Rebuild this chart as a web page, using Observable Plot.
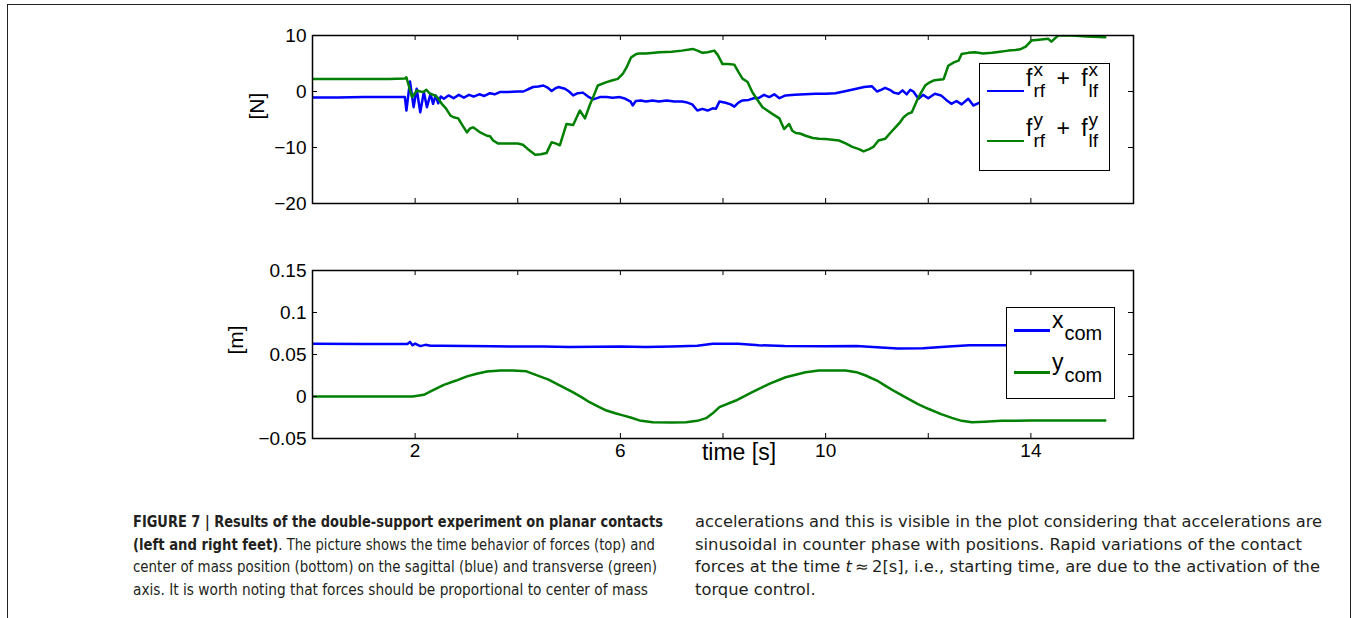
<!DOCTYPE html>
<html><head><meta charset="utf-8">
<script src="https://cdn.jsdelivr.net/npm/d3@7"></script>
<script src="https://cdn.jsdelivr.net/npm/@observablehq/plot@0.6"></script>
<style>
body{margin:0;background:#fff;}
#page{position:relative;width:1356px;height:618px;overflow:hidden;font-family:"Liberation Sans",Arial,Helvetica,sans-serif;background:#fff;}
#page svg, #page svg text{font-family:"Liberation Sans",Arial,Helvetica,sans-serif;}
#border{position:absolute;left:7px;top:4px;width:1342px;height:700px;border:1.5px solid #222;z-index:5;pointer-events:none;}
.plotwrap{position:absolute;left:0;}
.legend{position:absolute;background:#fff;border:1.5px solid #000;z-index:3;box-sizing:border-box;}
.legend .sw{position:absolute;height:2.5px;}
.legend .lab{position:absolute;white-space:nowrap;font-size:23px;line-height:23px;color:#000;}
.ss{position:relative;display:inline-block;font-size:19px;line-height:19px;margin-left:1px;}
.ss .sb{position:relative;top:11px;}
.ss .sp{position:absolute;left:0;top:-10px;}
.pl{margin:0 5px;}
.sub{position:relative;top:12px;font-size:20px;margin-left:1px;}
.cap{position:absolute;font-family:"Liberation Sans Narrow","DejaVu Sans Condensed","Liberation Sans",sans-serif;font-size:15.5px;color:#231f20;}
.cap div{white-space:nowrap;height:22.7px;line-height:22.7px;}
.cap span.ln{display:inline-block;transform-origin:0 50%;}
</style>
</head><body>
<div id="page">
  <div id="border"></div>
  <div id="p1" class="plotwrap" style="top:0px"></div>
  <div id="p2" class="plotwrap" style="top:240px"></div>
  <div id="leg1" class="legend" style="left:979px;top:63px;width:131px;height:108px;"></div>
  <div id="leg2" class="legend" style="left:1006px;top:307px;width:109px;height:92px;"></div>
  <div id="cap1" class="cap" style="left:133px;top:511px;"></div>
  <div id="cap2" class="cap" style="left:695px;top:511px;"></div>
</div>
<script>
// ---------- data ----------
const fxT = [0,0.5,1,1.5,1.8,1.83,1.9,1.97,2.03,2.1,2.17,2.23,2.3,2.35,2.4,2.45,2.5,2.56,2.65,2.75,2.85,2.95,3.05,3.14,3.25,3.35,3.46,3.55,3.65,3.79,3.9,4.0,4.11,4.2,4.3,4.4,4.5,4.58,4.66,4.72,4.79,4.92,5.0,5.08,5.17,5.27,5.37,5.47,5.6,5.73,5.85,5.99,6.1,6.2,6.24,6.3,6.4,6.5,6.63,6.75,6.9,7.05,7.2,7.28,7.4,7.5,7.6,7.7,7.8,7.86,7.93,8.05,8.15,8.22,8.3,8.38,8.5,8.6,8.71,8.8,8.9,9.0,9.1,9.22,9.4,9.6,9.8,10.0,10.19,10.4,10.6,10.75,10.9,10.96,11.0,11.08,11.16,11.25,11.33,11.42,11.5,11.58,11.65,11.71,11.81,11.9,12.0,12.13,12.25,12.35,12.45,12.55,12.65,12.78,12.88,13.0,13.5,14,14.5,15,15.45];
const fxV = [-1.05,-1.05,-1.0,-1.0,-1.0,-3.4,1.8,-2.8,0.5,-3.7,-0.1,-2.8,-0.4,-2.2,-0.7,-2.1,-0.9,-1.3,-0.7,-1.2,-0.6,-1.1,-0.6,-0.9,-0.5,-0.8,-0.3,-0.5,-0.1,-0.1,-0.05,0,0,0.4,0.8,0.9,1.07,0.7,0.1,0.5,0.8,0.5,0,-0.7,-0.3,-0.2,-0.9,-1.4,-1.0,-1.0,-1.1,-1.0,-1.3,-1.8,-2.5,-1.7,-1.6,-1.8,-1.6,-1.8,-1.6,-1.8,-1.8,-1.9,-2.3,-3.4,-3.1,-3.4,-3.0,-3.1,-1.8,-2.0,-2.3,-2.7,-2.0,-1.6,-1.5,-1.2,-1.1,-0.6,-1.0,-0.5,-1.2,-0.7,-0.6,-0.5,-0.4,-0.4,-0.3,0.1,0.5,0.8,0.95,0.4,0,0.3,0.65,0.3,-0.2,-0.4,0.2,-0.5,0.3,0,-1.3,-0.6,-1.2,-0.4,-0.7,-1.5,-2.2,-1.7,-2.3,-1.3,-2.5,-2.0,-1.8,-1.5,-1.0,-0.8,-0.8];

const fyT = [0,1,1.5,1.8,1.83,1.94,2.04,2.1,2.16,2.22,2.29,2.36,2.43,2.52,2.6,2.69,2.75,2.84,2.92,3.01,3.07,3.13,3.25,3.4,3.46,3.52,3.62,3.8,4.0,4.1,4.2,4.34,4.45,4.56,4.66,4.75,4.82,4.95,5.08,5.21,5.31,5.4,5.47,5.56,5.73,5.85,5.95,6.05,6.12,6.21,6.31,6.37,6.5,6.76,7.0,7.2,7.41,7.5,7.6,7.7,7.83,7.9,7.99,8.1,8.22,8.3,8.38,8.48,8.57,8.65,8.77,8.85,8.96,9.1,9.19,9.29,9.35,9.42,9.5,9.61,9.75,9.87,10.0,10.26,10.4,10.52,10.65,10.74,10.85,10.93,11.03,11.16,11.25,11.36,11.45,11.52,11.6,11.68,11.78,11.86,11.94,12.02,12.1,12.2,12.3,12.39,12.5,12.59,12.65,12.78,12.91,13.07,13.24,13.4,13.56,13.7,13.81,13.9,14.01,14.2,14.34,14.4,14.53,14.8,15.1,15.45];
const fyV = [2.25,2.25,2.25,2.3,2.55,-1.0,0.2,0.0,-0.1,0.3,-0.4,-0.6,-1.0,-2.2,-3.0,-4.3,-4.6,-4.8,-6.0,-7.3,-6.6,-6.4,-7.2,-7.9,-8.0,-8.75,-9.3,-9.3,-9.3,-9.5,-10.3,-11.3,-11.2,-11.0,-9.05,-9.3,-9.6,-5.8,-6.0,-3.4,-4.8,-2.5,-1.0,1.07,1.67,2.0,2.26,3.2,4.3,6.1,6.7,6.8,6.8,7.0,7.1,7.3,7.6,7.3,6.9,7.0,7.3,6.5,4.9,4.9,4.8,3.5,2.3,1.7,-0.1,-1.2,-2.8,-3.3,-4.0,-4.8,-6.7,-5.8,-7.0,-7.4,-7.5,-7.9,-8.3,-8.45,-8.5,-8.75,-9.3,-9.9,-10.3,-10.7,-10.3,-9.9,-8.75,-8.45,-7.5,-6.4,-5.5,-4.6,-4.0,-3.7,-1.6,-0.2,1.07,1.6,1.96,2.1,2.2,4.6,5.2,5.5,6.7,6.9,7.0,6.8,6.9,7.1,7.3,7.4,7.6,8.0,9.1,9.3,9.4,8.9,10.0,10.0,9.8,9.7];

const xcT = [0,1,1.85,1.9,1.95,2.0,2.1,2.2,2.3,2.5,3,3.5,4,4.5,5,5.5,6,6.5,7,7.5,7.8,8.3,8.7,9.2,10,10.6,11,11.4,11.9,12.4,12.8,13.45,14,15.45];
const xcV = [0.0627,0.0625,0.0625,0.065,0.061,0.063,0.060,0.0615,0.0603,0.0605,0.0600,0.0598,0.0595,0.0595,0.0590,0.0592,0.0595,0.0590,0.0595,0.0605,0.0627,0.0627,0.0610,0.0600,0.0598,0.0600,0.0585,0.0570,0.0575,0.0595,0.0610,0.0610,0.0610,0.0610];

const ycT = [0,1,1.95,2.17,2.33,2.56,2.8,3.01,3.2,3.4,3.66,3.9,4.17,4.3,4.43,4.6,4.76,4.92,5.08,5.25,5.4,5.57,5.73,5.9,6.05,6.2,6.37,6.63,7.0,7.28,7.5,7.67,7.8,7.93,8.25,8.57,8.9,9.22,9.61,9.87,10.39,10.6,10.78,11.0,11.16,11.35,11.55,11.8,12.0,12.25,12.46,12.65,12.85,13.1,13.43,14,14.4,15,15.45];
const ycV = [0,0,0,0.002,0.007,0.0139,0.019,0.024,0.027,0.0298,0.031,0.031,0.030,0.027,0.024,0.020,0.015,0.010,0.005,-0.001,-0.0068,-0.012,-0.0167,-0.020,-0.0225,-0.025,-0.0285,-0.0306,-0.031,-0.0306,-0.029,-0.0258,-0.020,-0.0127,-0.0048,0.0052,0.015,0.0229,0.0289,0.031,0.031,0.029,0.025,0.019,0.013,0.006,-0.0008,-0.009,-0.0146,-0.021,-0.0254,-0.029,-0.0306,-0.030,-0.029,-0.0286,-0.0286,-0.0285,-0.0285];

const xDomain = [0, 16];
const xTicks = [0,2,4,6,8,10,12,14,16];
const xTickLabels = [2,6,10,14];
const yTopDomain = [-20, 10];
const yTopTicks = [-20,-10,0,10];
const yBotDomain = [-0.05, 0.15];
const yBotTicks = [-0.05,0,0.05,0.1,0.15];
const blue = "#0000ff", green = "#008000";

const zip = (T, V) => T.map((t, i) => ({t, v: V[i]}));
const fmt = d => String(d).replace("-", "\u2212");

// ---------- layout ----------
const W = 1356, mL = 312, mR = 223;
const innerW = W - mL - mR;
const innerH = 168;
const common = {
  width: W, marginLeft: mL, marginRight: mR,
  x: {domain: xDomain, axis: null},
  style: {background: "none", color: "#000", overflow: "visible"}
};
function tickMarks(yt) {
  return [
    Plot.tickX(xTicks, {x: d => d, insetTop: innerH - 5, stroke: "#000"}),
    Plot.tickX(xTicks, {x: d => d, insetBottom: innerH - 5, stroke: "#000"}),
    Plot.tickY(yt, {y: d => d, insetRight: innerW - 5, stroke: "#000"}),
    Plot.tickY(yt, {y: d => d, insetLeft: innerW - 5, stroke: "#000"})
  ];
}

const p1 = Plot.plot({
  ...common, height: 230, marginTop: 35, marginBottom: 27,
  y: {domain: yTopDomain, axis: null},
  marks: [
    Plot.line(zip(fxT, fxV), {x: "t", y: "v", stroke: blue, strokeWidth: 2.5, clip: true}),
    Plot.line(zip(fyT, fyV), {x: "t", y: "v", stroke: green, strokeWidth: 2.5, clip: true}),
    ...tickMarks(yTopTicks),
    Plot.frame({stroke: "#000", strokeWidth: 1.5}),
    Plot.axisY(yTopTicks, {anchor: "left", tickSize: 0, tickPadding: 6, fontSize: 19, tickFormat: fmt, label: null}),
    Plot.text(["[N]"], {frameAnchor: "left", dx: -55, rotate: -90, fontSize: 21})
  ]
});
document.getElementById("p1").append(p1);

const p2 = Plot.plot({
  ...common, height: 240, marginTop: 30, marginBottom: 42,
  y: {domain: yBotDomain, axis: null},
  marks: [
    Plot.line(zip(xcT, xcV), {x: "t", y: "v", stroke: blue, strokeWidth: 2.5, clip: true}),
    Plot.line(zip(ycT, ycV), {x: "t", y: "v", stroke: green, strokeWidth: 2.5, clip: true}),
    ...tickMarks(yBotTicks),
    Plot.frame({stroke: "#000", strokeWidth: 1.5}),
    Plot.axisY(yBotTicks, {anchor: "left", tickSize: 0, tickPadding: 6, fontSize: 19, tickFormat: fmt, label: null}),
    Plot.axisX(xTickLabels, {anchor: "bottom", tickSize: 0, tickPadding: 5, fontSize: 19, tickFormat: fmt, label: null}),
    Plot.text(["[m]"], {frameAnchor: "left", dx: -76, rotate: -90, fontSize: 21}),
    Plot.text(["time [s]"], {frameAnchor: "bottom", dx: 16, dy: 21, fontSize: 23})
  ]
});
document.getElementById("p2").append(p2);

// ---------- legends ----------
const leg1Entries = [
  {color: blue, html: 'f<span class="ss"><span class="sb">rf</span><span class="sp">x</span></span> <span class="pl">+</span> f<span class="ss"><span class="sb">lf</span><span class="sp">x</span></span>'},
  {color: green, html: 'f<span class="ss"><span class="sb">rf</span><span class="sp">y</span></span> <span class="pl">+</span> f<span class="ss"><span class="sb">lf</span><span class="sp">y</span></span>'}
];
const leg2Entries = [
  {color: blue, html: 'x<span class="sub">com</span>'},
  {color: green, html: 'y<span class="sub">com</span>'}
];
function buildLegend(id, entries, o) {
  const el = document.getElementById(id);
  entries.forEach((e, i) => {
    const sw = document.createElement("div");
    sw.className = "sw";
    sw.style.left = o.swL + "px"; sw.style.width = o.swW + "px";
    sw.style.top = (o.lineY[i] - 1.25) + "px"; sw.style.background = e.color;
    el.append(sw);
    const lab = document.createElement("div");
    lab.className = "lab";
    lab.style.left = o.labL + "px"; lab.style.top = o.labT[i] + "px";
    lab.innerHTML = e.html;
    el.append(lab);
  });
}
buildLegend("leg1", leg1Entries, {swL: 7, swW: 37, lineY: [27, 77], labL: 46, labT: [2.7, 52.7]});
buildLegend("leg2", leg2Entries, {swL: 7, swW: 36, lineY: [22.5, 64.5], labL: 45, labT: [1, 43]});

// ---------- caption ----------
const cap1Lines = [
  '<b>FIGURE 7 | Results of the double-support experiment on planar contacts</b>',
  '<b>(left and right feet)</b>. The picture shows the time behavior of forces (top) and',
  'center of mass position (bottom) on the sagittal (blue) and transverse (green)',
  'axis. It is worth noting that forces should be proportional to center of mass'
];
const cap1Widths = [530, 522, 524, 515];
const cap2Lines = [
  'accelerations and this is visible in the plot considering that accelerations are',
  'sinusoidal in counter phase with positions. Rapid variations of the contact',
  'forces at the time <i>t</i>\u2009\u2248\u20092[s], i.e., starting time, are due to the activation of the',
  'torque control.'
];
const cap2Widths = [627, 607, 625, null];
function buildCap(id, lines, widths) {
  const el = document.getElementById(id);
  const spans = lines.map(h => {
    const d = document.createElement("div");
    const s = document.createElement("span");
    s.className = "ln"; s.innerHTML = h;
    d.append(s); el.append(d);
    return s;
  });
  const scales = spans.map((s, i) => widths[i] ? widths[i] / s.getBoundingClientRect().width : null);
  const known = scales.filter(x => x);
  const mean = known.reduce((a, b) => a + b, 0) / known.length;
  spans.forEach((s, i) => { s.style.transform = `scaleX(${scales[i] || mean})`; });
}
buildCap("cap1", cap1Lines, cap1Widths);
buildCap("cap2", cap2Lines, cap2Widths);
</script>
</body></html>
